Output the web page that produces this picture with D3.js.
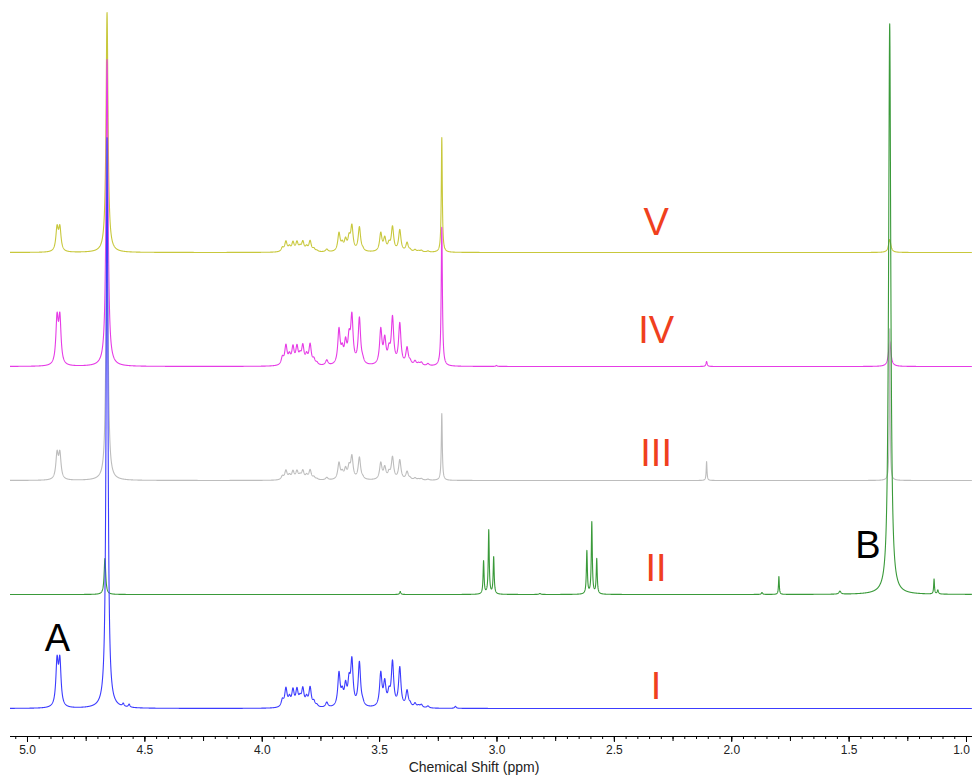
<!DOCTYPE html>
<html>

<head>
    <meta charset="UTF-8">
    <title>1H NMR stack</title>
    <style>
        body {
            margin: 0;
            background-color: white;
        }
        text {
            font-family: "Liberation Sans", Arial, sans-serif;
        }
    </style>
</head>

<body>
    <svg></svg>

    <script src="https://d3js.org/d3.v7.min.js"></script>

    <script>

        let width = 972, height = 776;

        let svg = d3.select("svg")
            .attr("width", width)
            .attr("height", height);

        // spectra, bottom to top
        let names = ["I", "II", "III", "IV", "V"];
        let colors = ["#3c3cff", "#3a9a3a", "#bdbdbd", "#e63ce6", "#c8c83c"];

        // shared sugar multiplets (ppm, height as in spectrum I)
        let sugarPeaks = [
            [3.912, 7], [3.897, 18], [3.882, 8], [3.867, 16], [3.850, 16], [3.837, 7],
            [3.825, 17], [3.809, 8], [3.794, 19], [3.778, 5], [3.765, 2],
            [3.723, 5],
            [3.671, 33], [3.657, 12], [3.643, 19], [3.628, 22], [3.616, 44], [3.584, 44], [3.570, 3],
            [3.493, 33], [3.476, 23], [3.458, 12], [3.443, 44], [3.412, 39], [3.381, 16], [3.368, 3],
            [3.347, 4], [3.332, 2], [3.320, 3], [3.292, 2]
        ];
        let sugarScale = [1.0, 0, 0.5, 1.05, 0.55];

        // other lines per spectrum: ppm, height, half width (ppm)
        let peaksI = [[4.872, 44, 0.006], [4.860, 44, 0.006], [4.659, 571, 0.0045],
            [4.590, 3, 0.004], [4.565, 3, 0.004], [3.175, 2, 0.004]];
        let peaksII = [[4.668, 36, 0.004], [3.410, 3, 0.003],
            [3.055, 33, 0.0025], [3.033, 64, 0.0025], [3.012, 37, 0.0025],
            [2.815, 1, 0.004], [2.615, 43, 0.0025], [2.594, 72, 0.0025], [2.573, 35, 0.0025],
            [1.869, 2, 0.003], [1.797, 18, 0.002], [1.537, 3, 0.005], [1.325, 571, 0.0055],
            [1.136, 15, 0.002], [1.120, 4, 0.003]];
        let peaksIII = [[4.872, 25, 0.006], [4.860, 25, 0.006], [4.659, 330, 0.0045],
            [3.233, 67, 0.0025], [2.105, 19, 0.002], [1.325, 152, 0.002]];
        let peaksIV = [[4.872, 45, 0.006], [4.860, 45, 0.006], [4.659, 307, 0.005],
            [3.233, 139, 0.003], [3.000, 1, 0.003], [2.105, 5, 0.003], [1.325, 25, 0.006]];
        let peaksV = [[4.872, 23, 0.006], [4.860, 23, 0.006], [4.659, 240, 0.005],
            [3.233, 115, 0.0025], [1.325, 13, 0.006]];
        let allPeaks = [peaksI, peaksII, peaksIII, peaksIV, peaksV];

        let ticksMajor = [5.0, 4.5, 4.0, 3.5, 3.0, 2.5, 2.0, 1.5, 1.0];

        // scales
        let x = d3.scaleLinear().domain([5.0724, 0.9744]).range([10, 972]);
        let offset = d3.scaleLinear().domain([0, 4]).range([708.5, 252.5]);
        let inten = d3.scaleLinear().domain([0, 600]).range([0, 600]);

        let ppmGrid = d3.range(5.0724, 0.9744, -0.0005);

        function spectrum(i) {
            let lines = allPeaks[i].slice();
            sugarPeaks.forEach(p => {
                if (sugarScale[i] > 0) lines.push([p[0], p[1] * sugarScale[i], 0.006]);
            });
            return ppmGrid.map(ppm => {
                let s = 0;
                lines.forEach(l => {
                    let d = (ppm - l[0]) / l[2];
                    s += l[1] / (1 + d * d);
                });
                return [ppm, s];
            });
        }

        // draw V first so I ends on top
        for (let i = 4; i >= 0; i--) {
            let base = offset(i);
            let line = d3.line()
                .x(d => x(d[0]))
                .y(d => base - inten(d[1]));
            svg.append("path")
                .datum(spectrum(i))
                .attr("d", line)
                .attr("fill", "none")
                .attr("stroke", colors[i])
                .attr("stroke-width", 1.1)
                .attr("stroke-linejoin", "round");
        }

        // roman numerals
        let labelDy = [-10, -14, -15, -24, -18];
        svg.append("g")
            .selectAll("text")
            .data(names)
            .enter()
            .append("text")
            .attr("x", x(2.32))
            .attr("y", (d, i) => offset(i) + labelDy[i])
            .attr("text-anchor", "middle")
            .attr("fill", "#f0401e")
            .style("font-size", "38px")
            .text(d => d);

        svg.append("text").attr("x", x(4.87)).attr("y", 651)
            .attr("text-anchor", "middle").style("font-size", "38px").text("A");
        svg.append("text").attr("x", x(1.418)).attr("y", 558)
            .attr("text-anchor", "middle").style("font-size", "38px").text("B");

        // axis
        let axisY = 736;
        svg.append("g")
            .attr("transform", "translate(0," + axisY + ")")
            .call(d3.axisBottom(x).tickValues(d3.range(0, 83).map(k => 5.05 - k * 0.05).filter(v => v > 0.975))
                .tickSize(3).tickSizeOuter(0).tickFormat(""))
            .call(g => g.select(".domain").attr("d", "M10,0.5H972"));
        svg.append("g")
            .attr("transform", "translate(0," + axisY + ")")
            .call(d3.axisBottom(x).tickValues(d3.range(0, 17).map(k => 5.0 - k * 0.25))
                .tickSize(5).tickSizeOuter(0).tickFormat(""))
            .call(g => g.select(".domain").remove());
        svg.append("g")
            .attr("transform", "translate(0," + axisY + ")")
            .call(d3.axisBottom(x).tickValues(ticksMajor)
                .tickSize(6).tickSizeOuter(0).tickPadding(3).tickFormat(d3.format(".1f")))
            .call(g => g.select(".domain").remove())
            .call(g => g.selectAll("text")
                .style("font-size", "12px")
                .style("font-family", "'Liberation Sans', Arial, sans-serif")
                .attr("fill", "#222")
                .attr("dx", d => d === 1.0 ? -5 : 0));

        svg.append("text")
            .attr("x", 474)
            .attr("y", 772)
            .attr("text-anchor", "middle")
            .style("font-size", "14px")
            .attr("fill", "#222")
            .text("Chemical Shift (ppm)");

    </script>

</body>

</html>
